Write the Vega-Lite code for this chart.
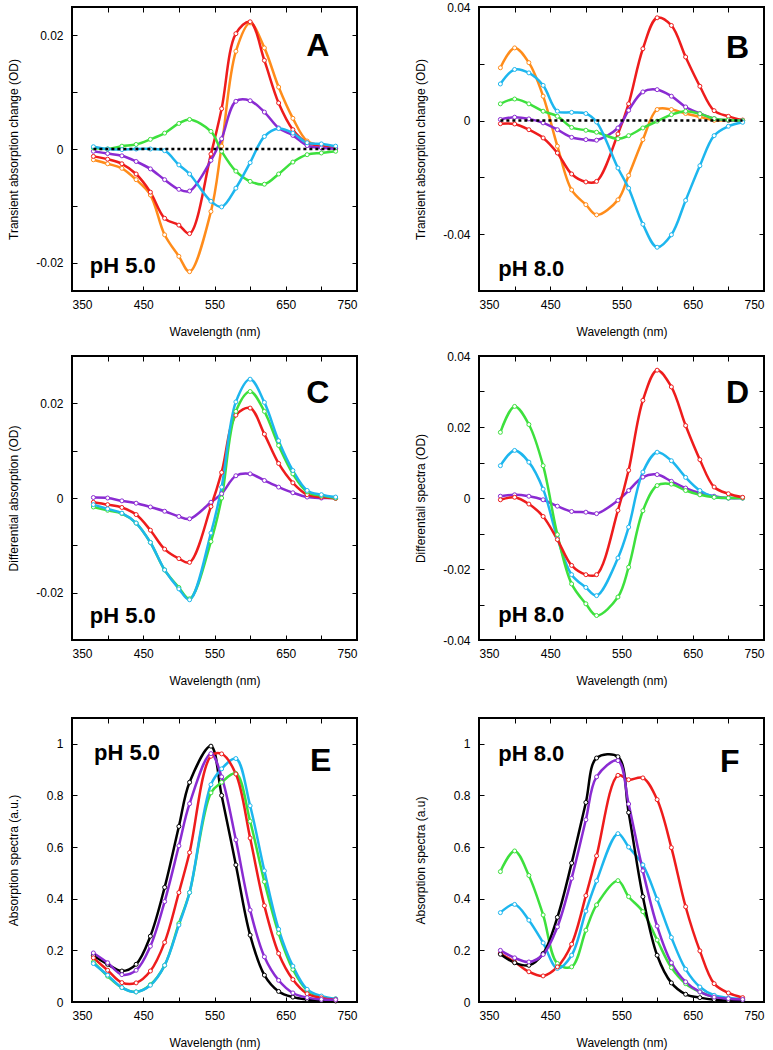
{
"$schema":"https://vega.github.io/schema/vega-lite/v6.json",
"padding":{"left":6,"top":0,"right":5,"bottom":3},
"spacing":29,
"datasets":{
"A":[
{"wl":380,"orange":-0.0019,"red":-0.0013,"purple":-0.0004,"green":0.0002,"cyan":0.0004},
{"wl":400,"orange":-0.0026,"red":-0.0018,"purple":-0.0008,"green":0.0000,"cyan":0.0000},
{"wl":420,"orange":-0.0034,"red":-0.0026,"purple":-0.0012,"green":0.0005,"cyan":-0.0001},
{"wl":440,"orange":-0.0054,"red":-0.0044,"purple":-0.0022,"green":0.0008,"cyan":0.0000},
{"wl":460,"orange":-0.0081,"red":-0.0076,"purple":-0.0035,"green":0.0017,"cyan":0.0000},
{"wl":480,"orange":-0.0151,"red":-0.0122,"purple":-0.0054,"green":0.0028,"cyan":-0.0003},
{"wl":500,"orange":-0.0189,"red":-0.0134,"purple":-0.0071,"green":0.0045,"cyan":-0.0028},
{"wl":515,"orange":-0.0216,"red":-0.0149,"purple":-0.0074,"green":0.0052,"cyan":-0.0044},
{"wl":545,"orange":-0.0110,"red":-0.0009,"purple":-0.0020,"green":0.0031,"cyan":-0.0092},
{"wl":560,"orange":0.0005,"red":0.0071,"purple":0.0018,"green":-0.0004,"cyan":-0.0102},
{"wl":580,"orange":0.0172,"red":0.0203,"purple":0.0084,"green":-0.0039,"cyan":-0.0069},
{"wl":600,"orange":0.0222,"red":0.0224,"purple":0.0085,"green":-0.0057,"cyan":-0.0024},
{"wl":620,"orange":0.0178,"red":0.0156,"purple":0.0065,"green":-0.0062,"cyan":0.0022},
{"wl":640,"orange":0.0109,"red":0.0081,"purple":0.0037,"green":-0.0044,"cyan":0.0036},
{"wl":660,"orange":0.0054,"red":0.0034,"purple":0.0024,"green":-0.0023,"cyan":0.0028},
{"wl":680,"orange":0.0014,"red":0.0011,"purple":0.0006,"green":-0.0010,"cyan":0.0011},
{"wl":700,"orange":0.0006,"red":0.0005,"purple":0.0002,"green":-0.0007,"cyan":0.0009},
{"wl":720,"orange":0.0002,"red":0.0001,"purple":0.0000,"green":-0.0004,"cyan":0.0005}
],
"B":[
{"wl":380,"orange":0.0186,"red":-0.0011,"purple":0.0004,"green":0.0059,"cyan":0.0129},
{"wl":400,"orange":0.0256,"red":-0.0012,"purple":0.0012,"green":0.0076,"cyan":0.0180},
{"wl":420,"orange":0.0204,"red":-0.0032,"purple":0.0006,"green":0.0059,"cyan":0.0168},
{"wl":440,"orange":0.0086,"red":-0.0061,"purple":-0.0008,"green":0.0033,"cyan":0.0124},
{"wl":460,"orange":-0.0090,"red":-0.0114,"purple":-0.0032,"green":0.0015,"cyan":0.0033},
{"wl":480,"orange":-0.0244,"red":-0.0188,"purple":-0.0059,"green":-0.0024,"cyan":0.0029},
{"wl":500,"orange":-0.0296,"red":-0.0216,"purple":-0.0067,"green":-0.0034,"cyan":0.0025},
{"wl":515,"orange":-0.0332,"red":-0.0214,"purple":-0.0069,"green":-0.0041,"cyan":-0.0005},
{"wl":545,"orange":-0.0279,"red":-0.0047,"purple":-0.0026,"green":-0.0064,"cyan":-0.0167},
{"wl":560,"orange":-0.0193,"red":0.0059,"purple":0.0036,"green":-0.0053,"cyan":-0.0238},
{"wl":580,"orange":-0.0067,"red":0.0253,"purple":0.0101,"green":-0.0026,"cyan":-0.0365},
{"wl":600,"orange":0.0039,"red":0.0362,"purple":0.0109,"green":-0.0002,"cyan":-0.0446},
{"wl":620,"orange":0.0039,"red":0.0335,"purple":0.0086,"green":0.0021,"cyan":-0.0402},
{"wl":640,"orange":0.0025,"red":0.0224,"purple":0.0048,"green":0.0033,"cyan":-0.0281},
{"wl":660,"orange":0.0013,"red":0.0121,"purple":0.0025,"green":0.0024,"cyan":-0.0159},
{"wl":680,"orange":0.0001,"red":0.0035,"purple":0.0007,"green":0.0007,"cyan":-0.0053},
{"wl":700,"orange":0.0001,"red":0.0015,"purple":0.0001,"green":0.0002,"cyan":-0.0020},
{"wl":720,"orange":0.0000,"red":0.0002,"purple":0.0000,"green":0.0000,"cyan":-0.0006}
],
"C":[
{"wl":380,"red":-0.0009,"green":-0.0019,"cyan":-0.0014,"purple":0.0001},
{"wl":400,"red":-0.0014,"green":-0.0026,"cyan":-0.0023,"purple":0.0000},
{"wl":420,"red":-0.0020,"green":-0.0033,"cyan":-0.0032,"purple":-0.0006},
{"wl":440,"red":-0.0035,"green":-0.0053,"cyan":-0.0053,"purple":-0.0011},
{"wl":460,"red":-0.0068,"green":-0.0094,"cyan":-0.0094,"purple":-0.0019},
{"wl":480,"red":-0.0108,"green":-0.0152,"cyan":-0.0152,"purple":-0.0028},
{"wl":500,"red":-0.0128,"green":-0.0189,"cyan":-0.0192,"purple":-0.0039},
{"wl":515,"red":-0.0136,"green":-0.0213,"cyan":-0.0215,"purple":-0.0044},
{"wl":545,"red":-0.0018,"green":-0.0092,"cyan":-0.0074,"purple":-0.0009},
{"wl":560,"red":0.0054,"green":0.0000,"cyan":0.0023,"purple":0.0009},
{"wl":580,"red":0.0175,"green":0.0183,"cyan":0.0203,"purple":0.0047},
{"wl":600,"red":0.0190,"green":0.0225,"cyan":0.0251,"purple":0.0051},
{"wl":620,"red":0.0135,"green":0.0183,"cyan":0.0202,"purple":0.0037},
{"wl":640,"red":0.0073,"green":0.0111,"cyan":0.0121,"purple":0.0023},
{"wl":660,"red":0.0032,"green":0.0051,"cyan":0.0058,"purple":0.0011},
{"wl":680,"red":0.0007,"green":0.0013,"cyan":0.0016,"purple":0.0002},
{"wl":700,"red":0.0002,"green":0.0005,"cyan":0.0007,"purple":0.0000},
{"wl":720,"red":-0.0001,"green":0.0000,"cyan":0.0002,"purple":0.0000}
],
"D":[
{"wl":380,"red":-0.0005,"green":0.0185,"cyan":0.0091,"purple":0.0005},
{"wl":400,"red":0.0002,"green":0.0258,"cyan":0.0134,"purple":0.0009},
{"wl":420,"red":-0.0017,"green":0.0207,"cyan":0.0101,"purple":0.0005},
{"wl":440,"red":-0.0052,"green":0.0091,"cyan":0.0025,"purple":-0.0005},
{"wl":460,"red":-0.0117,"green":-0.0103,"cyan":-0.0113,"purple":-0.0023},
{"wl":480,"red":-0.0190,"green":-0.0242,"cyan":-0.0216,"purple":-0.0038},
{"wl":500,"red":-0.0216,"green":-0.0298,"cyan":-0.0252,"purple":-0.0040},
{"wl":515,"red":-0.0216,"green":-0.0331,"cyan":-0.0275,"purple":-0.0044},
{"wl":545,"red":-0.0035,"green":-0.0279,"cyan":-0.0169,"purple":-0.0007},
{"wl":560,"red":0.0078,"green":-0.0195,"cyan":-0.0082,"purple":0.0021},
{"wl":580,"red":0.0275,"green":-0.0036,"cyan":0.0073,"purple":0.0059},
{"wl":600,"red":0.0360,"green":0.0035,"cyan":0.0129,"purple":0.0066},
{"wl":620,"red":0.0313,"green":0.0039,"cyan":0.0105,"purple":0.0047},
{"wl":640,"red":0.0204,"green":0.0021,"cyan":0.0058,"purple":0.0028},
{"wl":660,"red":0.0108,"green":0.0009,"cyan":0.0021,"purple":0.0014},
{"wl":680,"red":0.0031,"green":0.0002,"cyan":0.0003,"purple":0.0005},
{"wl":700,"red":0.0012,"green":0.0000,"cyan":0.0000,"purple":0.0000},
{"wl":720,"red":0.0002,"green":0.0000,"cyan":0.0000,"purple":0.0000}
],
"E":[
{"wl":380,"black":0.180,"purple":0.190,"red":0.171,"green":0.155,"cyan":0.149},
{"wl":400,"black":0.146,"purple":0.152,"red":0.123,"green":0.100,"cyan":0.104},
{"wl":420,"black":0.120,"purple":0.106,"red":0.075,"green":0.056,"cyan":0.056},
{"wl":440,"black":0.146,"purple":0.123,"red":0.074,"green":0.039,"cyan":0.039},
{"wl":460,"black":0.255,"purple":0.216,"red":0.120,"green":0.067,"cyan":0.065},
{"wl":480,"black":0.444,"purple":0.389,"red":0.231,"green":0.142,"cyan":0.142},
{"wl":500,"black":0.680,"purple":0.605,"red":0.424,"green":0.304,"cyan":0.298},
{"wl":515,"black":0.851,"purple":0.768,"red":0.579,"green":0.424,"cyan":0.424},
{"wl":545,"black":0.991,"purple":0.962,"red":0.952,"green":0.810,"cyan":0.842},
{"wl":560,"black":0.800,"purple":0.872,"red":0.961,"green":0.851,"cyan":0.903},
{"wl":580,"black":0.531,"purple":0.628,"red":0.883,"green":0.885,"cyan":0.943},
{"wl":600,"black":0.259,"purple":0.356,"red":0.635,"green":0.700,"cyan":0.760},
{"wl":620,"black":0.104,"purple":0.175,"red":0.373,"green":0.466,"cyan":0.508},
{"wl":640,"black":0.041,"purple":0.084,"red":0.188,"green":0.266,"cyan":0.282},
{"wl":660,"black":0.019,"purple":0.035,"red":0.087,"green":0.126,"cyan":0.139},
{"wl":680,"black":0.010,"purple":0.017,"red":0.032,"green":0.045,"cyan":0.049},
{"wl":700,"black":0.006,"purple":0.010,"red":0.016,"green":0.019,"cyan":0.023},
{"wl":720,"black":0.004,"purple":0.009,"red":0.009,"green":0.012,"cyan":0.012}
],
"F":[
{"wl":380,"black":0.185,"purple":0.200,"red":0.188,"green":0.505,"cyan":0.346},
{"wl":400,"black":0.152,"purple":0.171,"red":0.155,"green":0.585,"cyan":0.378},
{"wl":420,"black":0.142,"purple":0.155,"red":0.117,"green":0.490,"cyan":0.317},
{"wl":440,"black":0.188,"purple":0.184,"red":0.101,"green":0.337,"cyan":0.229},
{"wl":460,"black":0.328,"purple":0.291,"red":0.136,"green":0.149,"cyan":0.130},
{"wl":480,"black":0.538,"purple":0.479,"red":0.224,"green":0.136,"cyan":0.181},
{"wl":500,"black":0.773,"purple":0.706,"red":0.412,"green":0.278,"cyan":0.352},
{"wl":515,"black":0.945,"purple":0.872,"red":0.566,"green":0.376,"cyan":0.469},
{"wl":545,"black":0.950,"purple":0.935,"red":0.878,"green":0.470,"cyan":0.652},
{"wl":560,"black":0.734,"purple":0.767,"red":0.861,"green":0.408,"cyan":0.600},
{"wl":580,"black":0.408,"purple":0.508,"red":0.868,"green":0.350,"cyan":0.531},
{"wl":600,"black":0.181,"purple":0.294,"red":0.784,"green":0.240,"cyan":0.398},
{"wl":620,"black":0.074,"purple":0.152,"red":0.598,"green":0.133,"cyan":0.250},
{"wl":640,"black":0.030,"purple":0.078,"red":0.369,"green":0.071,"cyan":0.127},
{"wl":660,"black":0.017,"purple":0.039,"red":0.198,"green":0.039,"cyan":0.058},
{"wl":680,"black":0.009,"purple":0.019,"red":0.071,"green":0.019,"cyan":0.026},
{"wl":700,"black":0.006,"purple":0.013,"red":0.035,"green":0.013,"cyan":0.016},
{"wl":720,"black":0.006,"purple":0.010,"red":0.017,"green":0.010,"cyan":0.013}
],
"one":[{"k":1}]
},
"vconcat":[
{"spacing":11,"vconcat":[
{"bounds":"flush","spacing":122,"hconcat":[
{"width":285,"height":284,
"layer":[
{"data":{"name":"A"},"transform":[{"fold":["orange","red","purple","green","cyan"],"as":["s","v"]}],
"mark":{"type":"line","interpolate":"catmull-rom","strokeWidth":2.5},
"encoding":{
"x":{"field":"wl","type":"quantitative","scale":{"domain":[350,750],"nice":false,"zero":false},"axis":{"orient":"bottom","values":[350,400,450,500,550,600,650,700,750],"labelExpr":"datum.value % 100 == 50 ? format(datum.value, 'd') : ''","title":"Wavelength (nm)"}},
"y":{"field":"v","type":"quantitative","scale":{"domain":[-0.025,0.025],"nice":false,"zero":false},"axis":{"orient":"left","values":[-0.02,-0.01,0,0.01,0.02],"labelExpr":"abs(datum.value) < 0.001 ? '0' : abs(abs(datum.value) - 0.02) < 0.001 ? (datum.value < 0 ? '-0.02' : '0.02') : ''","title":"Transient absorption change (OD)"}},
"color":{"field":"s","type":"nominal","scale":{"domain":["red","orange","green","cyan","purple","black"],"range":["#ee1c1c","#ff8c1a","#3de03d","#1db6ee","#8a2bd2","#000000"]},"legend":null}}},
{"data":{"name":"A"},"transform":[{"fold":["orange","red","purple","green","cyan"],"as":["s","v"]}],
"mark":{"type":"point","filled":true,"fill":"white","size":16,"strokeWidth":1,"opacity":1},
"encoding":{
"x":{"field":"wl","type":"quantitative","scale":{"domain":[350,750],"nice":false,"zero":false},"axis":{"orient":"top","values":[350,400,450,500,550,600,650,700,750],"labels":false,"title":null,"minExtent":0,"maxExtent":0}},
"y":{"field":"v","type":"quantitative","scale":{"domain":[-0.025,0.025],"nice":false,"zero":false},"axis":{"orient":"right","values":[-0.02,-0.01,0,0.01,0.02],"labels":false,"title":null,"minExtent":0,"maxExtent":0}},
"stroke":{"field":"s","type":"nominal","scale":{"domain":["red","orange","green","cyan","purple","black"],"range":["#ee1c1c","#ff8c1a","#3de03d","#1db6ee","#8a2bd2","#000000"]},"legend":null}}},
{"data":{"name":"one"},"mark":{"type":"rule","strokeDash":[3,3],"strokeWidth":2.5,"color":"black"},
"encoding":{"x":{"datum":380,"axis":null},"x2":{"datum":720},"y":{"datum":0,"axis":null}}},
{"data":{"name":"one"},"mark":{"type":"text","font":"Liberation Sans","fontWeight":"bold","fontSize":22,"align":"left","baseline":"middle"},
"encoding":{"x":{"datum":375,"axis":null},"y":{"datum":-0.0206,"axis":null},"text":{"value":"pH 5.0"}}},
{"data":{"name":"one"},"mark":{"type":"text","font":"Liberation Sans","fontWeight":"bold","fontSize":32,"align":"center","baseline":"middle"},
"encoding":{"x":{"datum":695,"axis":null},"y":{"datum":0.0182,"axis":null},"text":{"value":"A"}}}
],
"resolve":{"axis":{"x":"independent","y":"independent"}}},
{"width":285,"height":284,
"layer":[
{"data":{"name":"B"},"transform":[{"fold":["orange","red","purple","green","cyan"],"as":["s","v"]}],
"mark":{"type":"line","interpolate":"catmull-rom","strokeWidth":2.5},
"encoding":{
"x":{"field":"wl","type":"quantitative","scale":{"domain":[350,750],"nice":false,"zero":false},"axis":{"orient":"bottom","values":[350,400,450,500,550,600,650,700,750],"labelExpr":"datum.value % 100 == 50 ? format(datum.value, 'd') : ''","title":"Wavelength (nm)"}},
"y":{"field":"v","type":"quantitative","scale":{"domain":[-0.06,0.04],"nice":false,"zero":false},"axis":{"orient":"left","values":[-0.06,-0.04,-0.02,0,0.02,0.04],"labelExpr":"abs(datum.value) < 0.001 ? '0' : abs(abs(datum.value) - 0.04) < 0.001 ? (datum.value < 0 ? '-0.04' : '0.04') : ''","title":"Transient absorption change (OD)"}},
"color":{"field":"s","type":"nominal","scale":{"domain":["red","orange","green","cyan","purple","black"],"range":["#ee1c1c","#ff8c1a","#3de03d","#1db6ee","#8a2bd2","#000000"]},"legend":null}}},
{"data":{"name":"B"},"transform":[{"fold":["orange","red","purple","green","cyan"],"as":["s","v"]}],
"mark":{"type":"point","filled":true,"fill":"white","size":16,"strokeWidth":1,"opacity":1},
"encoding":{
"x":{"field":"wl","type":"quantitative","scale":{"domain":[350,750],"nice":false,"zero":false},"axis":{"orient":"top","values":[350,400,450,500,550,600,650,700,750],"labels":false,"title":null,"minExtent":0,"maxExtent":0}},
"y":{"field":"v","type":"quantitative","scale":{"domain":[-0.06,0.04],"nice":false,"zero":false},"axis":{"orient":"right","values":[-0.06,-0.04,-0.02,0,0.02,0.04],"labels":false,"title":null,"minExtent":0,"maxExtent":0}},
"stroke":{"field":"s","type":"nominal","scale":{"domain":["red","orange","green","cyan","purple","black"],"range":["#ee1c1c","#ff8c1a","#3de03d","#1db6ee","#8a2bd2","#000000"]},"legend":null}}},
{"data":{"name":"one"},"mark":{"type":"rule","strokeDash":[3,3],"strokeWidth":2.5,"color":"black"},
"encoding":{"x":{"datum":380,"axis":null},"x2":{"datum":720},"y":{"datum":0,"axis":null}}},
{"data":{"name":"one"},"mark":{"type":"text","font":"Liberation Sans","fontWeight":"bold","fontSize":22,"align":"left","baseline":"middle"},
"encoding":{"x":{"datum":377,"axis":null},"y":{"datum":-0.0522,"axis":null},"text":{"value":"pH 8.0"}}},
{"data":{"name":"one"},"mark":{"type":"text","font":"Liberation Sans","fontWeight":"bold","fontSize":32,"align":"center","baseline":"middle"},
"encoding":{"x":{"datum":713,"axis":null},"y":{"datum":0.0254,"axis":null},"text":{"value":"B"}}}
],
"resolve":{"axis":{"x":"independent","y":"independent"}}}
]},
{"bounds":"flush","spacing":122,"hconcat":[
{"width":285,"height":284,
"layer":[
{"data":{"name":"C"},"transform":[{"fold":["purple","red","green","cyan"],"as":["s","v"]}],
"mark":{"type":"line","interpolate":"catmull-rom","strokeWidth":2.5},
"encoding":{
"x":{"field":"wl","type":"quantitative","scale":{"domain":[350,750],"nice":false,"zero":false},"axis":{"orient":"bottom","values":[350,400,450,500,550,600,650,700,750],"labelExpr":"datum.value % 100 == 50 ? format(datum.value, 'd') : ''","title":"Wavelength (nm)"}},
"y":{"field":"v","type":"quantitative","scale":{"domain":[-0.03,0.03],"nice":false,"zero":false},"axis":{"orient":"left","values":[-0.03,-0.02,-0.01,0,0.01,0.02,0.03],"labelExpr":"abs(datum.value) < 0.001 ? '0' : abs(abs(datum.value) - 0.02) < 0.001 ? (datum.value < 0 ? '-0.02' : '0.02') : ''","title":"Differential absorption (OD)"}},
"color":{"field":"s","type":"nominal","scale":{"domain":["red","orange","green","cyan","purple","black"],"range":["#ee1c1c","#ff8c1a","#3de03d","#1db6ee","#8a2bd2","#000000"]},"legend":null}}},
{"data":{"name":"C"},"transform":[{"fold":["purple","red","green","cyan"],"as":["s","v"]}],
"mark":{"type":"point","filled":true,"fill":"white","size":16,"strokeWidth":1,"opacity":1},
"encoding":{
"x":{"field":"wl","type":"quantitative","scale":{"domain":[350,750],"nice":false,"zero":false},"axis":{"orient":"top","values":[350,400,450,500,550,600,650,700,750],"labels":false,"title":null,"minExtent":0,"maxExtent":0}},
"y":{"field":"v","type":"quantitative","scale":{"domain":[-0.03,0.03],"nice":false,"zero":false},"axis":{"orient":"right","values":[-0.03,-0.02,-0.01,0,0.01,0.02,0.03],"labels":false,"title":null,"minExtent":0,"maxExtent":0}},
"stroke":{"field":"s","type":"nominal","scale":{"domain":["red","orange","green","cyan","purple","black"],"range":["#ee1c1c","#ff8c1a","#3de03d","#1db6ee","#8a2bd2","#000000"]},"legend":null}}},
{"data":{"name":"one"},"mark":{"type":"text","font":"Liberation Sans","fontWeight":"bold","fontSize":22,"align":"left","baseline":"middle"},
"encoding":{"x":{"datum":375,"axis":null},"y":{"datum":-0.0249,"axis":null},"text":{"value":"pH 5.0"}}},
{"data":{"name":"one"},"mark":{"type":"text","font":"Liberation Sans","fontWeight":"bold","fontSize":32,"align":"center","baseline":"middle"},
"encoding":{"x":{"datum":695,"axis":null},"y":{"datum":0.0222,"axis":null},"text":{"value":"C"}}}
],
"resolve":{"axis":{"x":"independent","y":"independent"}}},
{"width":285,"height":284,
"layer":[
{"data":{"name":"D"},"transform":[{"fold":["purple","cyan","green","red"],"as":["s","v"]}],
"mark":{"type":"line","interpolate":"catmull-rom","strokeWidth":2.5},
"encoding":{
"x":{"field":"wl","type":"quantitative","scale":{"domain":[350,750],"nice":false,"zero":false},"axis":{"orient":"bottom","values":[350,400,450,500,550,600,650,700,750],"labelExpr":"datum.value % 100 == 50 ? format(datum.value, 'd') : ''","title":"Wavelength (nm)"}},
"y":{"field":"v","type":"quantitative","scale":{"domain":[-0.04,0.04],"nice":false,"zero":false},"axis":{"orient":"left","values":[-0.04,-0.03,-0.02,-0.01,0,0.01,0.02,0.03,0.04],"labelExpr":"abs(datum.value) < 0.001 ? '0' : round(abs(datum.value) * 100) % 2 == 0 ? (datum.value < 0 ? '-' : '') + format(abs(datum.value), '.2f') : ''","title":"Differentail spectra (OD)"}},
"color":{"field":"s","type":"nominal","scale":{"domain":["red","orange","green","cyan","purple","black"],"range":["#ee1c1c","#ff8c1a","#3de03d","#1db6ee","#8a2bd2","#000000"]},"legend":null}}},
{"data":{"name":"D"},"transform":[{"fold":["purple","cyan","green","red"],"as":["s","v"]}],
"mark":{"type":"point","filled":true,"fill":"white","size":16,"strokeWidth":1,"opacity":1},
"encoding":{
"x":{"field":"wl","type":"quantitative","scale":{"domain":[350,750],"nice":false,"zero":false},"axis":{"orient":"top","values":[350,400,450,500,550,600,650,700,750],"labels":false,"title":null,"minExtent":0,"maxExtent":0}},
"y":{"field":"v","type":"quantitative","scale":{"domain":[-0.04,0.04],"nice":false,"zero":false},"axis":{"orient":"right","values":[-0.04,-0.03,-0.02,-0.01,0,0.01,0.02,0.03,0.04],"labels":false,"title":null,"minExtent":0,"maxExtent":0}},
"stroke":{"field":"s","type":"nominal","scale":{"domain":["red","orange","green","cyan","purple","black"],"range":["#ee1c1c","#ff8c1a","#3de03d","#1db6ee","#8a2bd2","#000000"]},"legend":null}}},
{"data":{"name":"one"},"mark":{"type":"text","font":"Liberation Sans","fontWeight":"bold","fontSize":22,"align":"left","baseline":"middle"},
"encoding":{"x":{"datum":377,"axis":null},"y":{"datum":-0.033,"axis":null},"text":{"value":"pH 8.0"}}},
{"data":{"name":"one"},"mark":{"type":"text","font":"Liberation Sans","fontWeight":"bold","fontSize":32,"align":"center","baseline":"middle"},
"encoding":{"x":{"datum":713,"axis":null},"y":{"datum":0.0296,"axis":null},"text":{"value":"D"}}}
],
"resolve":{"axis":{"x":"independent","y":"independent"}}}
]}
]},
{"bounds":"flush","spacing":122,"hconcat":[
{"width":285,"height":284,
"layer":[
{"data":{"name":"E"},"transform":[{"fold":["black","green","cyan","red","purple"],"as":["s","v"]}],
"mark":{"type":"line","interpolate":"catmull-rom","strokeWidth":2.5},
"encoding":{
"x":{"field":"wl","type":"quantitative","scale":{"domain":[350,750],"nice":false,"zero":false},"axis":{"orient":"bottom","values":[350,400,450,500,550,600,650,700,750],"labelExpr":"datum.value % 100 == 50 ? format(datum.value, 'd') : ''","title":"Wavelength (nm)"}},
"y":{"field":"v","type":"quantitative","scale":{"domain":[0,1.1],"nice":false,"zero":false},"axis":{"orient":"left","values":[0,0.2,0.4,0.6,0.8,1],"labelExpr":"format(datum.value, '~g')","title":"Absorption spectra (a.u.)"}},
"color":{"field":"s","type":"nominal","scale":{"domain":["red","orange","green","cyan","purple","black"],"range":["#ee1c1c","#ff8c1a","#3de03d","#1db6ee","#8a2bd2","#000000"]},"legend":null}}},
{"data":{"name":"E"},"transform":[{"fold":["black","green","cyan","red","purple"],"as":["s","v"]}],
"mark":{"type":"point","filled":true,"fill":"white","size":16,"strokeWidth":1,"opacity":1},
"encoding":{
"x":{"field":"wl","type":"quantitative","scale":{"domain":[350,750],"nice":false,"zero":false},"axis":{"orient":"top","values":[350,400,450,500,550,600,650,700,750],"labels":false,"title":null,"minExtent":0,"maxExtent":0}},
"y":{"field":"v","type":"quantitative","scale":{"domain":[0,1.1],"nice":false,"zero":false},"axis":{"orient":"right","values":[0,0.2,0.4,0.6,0.8,1],"labels":false,"title":null,"minExtent":0,"maxExtent":0}},
"stroke":{"field":"s","type":"nominal","scale":{"domain":["red","orange","green","cyan","purple","black"],"range":["#ee1c1c","#ff8c1a","#3de03d","#1db6ee","#8a2bd2","#000000"]},"legend":null}}},
{"data":{"name":"one"},"mark":{"type":"text","font":"Liberation Sans","fontWeight":"bold","fontSize":22,"align":"left","baseline":"middle"},
"encoding":{"x":{"datum":381,"axis":null},"y":{"datum":0.965,"axis":null},"text":{"value":"pH 5.0"}}},
{"data":{"name":"one"},"mark":{"type":"text","font":"Liberation Sans","fontWeight":"bold","fontSize":32,"align":"center","baseline":"middle"},
"encoding":{"x":{"datum":699,"axis":null},"y":{"datum":0.934,"axis":null},"text":{"value":"E"}}}
],
"resolve":{"axis":{"x":"independent","y":"independent"}}},
{"width":285,"height":284,
"layer":[
{"data":{"name":"F"},"transform":[{"fold":["green","cyan","red","black","purple"],"as":["s","v"]}],
"mark":{"type":"line","interpolate":"catmull-rom","strokeWidth":2.5},
"encoding":{
"x":{"field":"wl","type":"quantitative","scale":{"domain":[350,750],"nice":false,"zero":false},"axis":{"orient":"bottom","values":[350,400,450,500,550,600,650,700,750],"labelExpr":"datum.value % 100 == 50 ? format(datum.value, 'd') : ''","title":"Wavelength (nm)"}},
"y":{"field":"v","type":"quantitative","scale":{"domain":[0,1.1],"nice":false,"zero":false},"axis":{"orient":"left","values":[0,0.2,0.4,0.6,0.8,1],"labelExpr":"format(datum.value, '~g')","title":"Absorption spectra (a.u)"}},
"color":{"field":"s","type":"nominal","scale":{"domain":["red","orange","green","cyan","purple","black"],"range":["#ee1c1c","#ff8c1a","#3de03d","#1db6ee","#8a2bd2","#000000"]},"legend":null}}},
{"data":{"name":"F"},"transform":[{"fold":["green","cyan","red","black","purple"],"as":["s","v"]}],
"mark":{"type":"point","filled":true,"fill":"white","size":16,"strokeWidth":1,"opacity":1},
"encoding":{
"x":{"field":"wl","type":"quantitative","scale":{"domain":[350,750],"nice":false,"zero":false},"axis":{"orient":"top","values":[350,400,450,500,550,600,650,700,750],"labels":false,"title":null,"minExtent":0,"maxExtent":0}},
"y":{"field":"v","type":"quantitative","scale":{"domain":[0,1.1],"nice":false,"zero":false},"axis":{"orient":"right","values":[0,0.2,0.4,0.6,0.8,1],"labels":false,"title":null,"minExtent":0,"maxExtent":0}},
"stroke":{"field":"s","type":"nominal","scale":{"domain":["red","orange","green","cyan","purple","black"],"range":["#ee1c1c","#ff8c1a","#3de03d","#1db6ee","#8a2bd2","#000000"]},"legend":null}}},
{"data":{"name":"one"},"mark":{"type":"text","font":"Liberation Sans","fontWeight":"bold","fontSize":22,"align":"left","baseline":"middle"},
"encoding":{"x":{"datum":377,"axis":null},"y":{"datum":0.961,"axis":null},"text":{"value":"pH 8.0"}}},
{"data":{"name":"one"},"mark":{"type":"text","font":"Liberation Sans","fontWeight":"bold","fontSize":32,"align":"center","baseline":"middle"},
"encoding":{"x":{"datum":702,"axis":null},"y":{"datum":0.93,"axis":null},"text":{"value":"F"}}}
],
"resolve":{"axis":{"x":"independent","y":"independent"}}}
]}
],
"config":{
"background":"white",
"view":{"stroke":"black","strokeWidth":2},
"axis":{"domain":false,"grid":false,"ticks":true,"tickColor":"black","tickSize":-5,"tickWidth":1,"labelFont":"Liberation Sans","labelFontSize":12,"labelColor":"black","titleFont":"Liberation Sans","titleFontSize":12,"titleFontWeight":"normal","titleColor":"black"},
"axisLeft":{"labelPadding":14,"titlePadding":12,"minExtent":40,"maxExtent":40},
"axisBottom":{"labelPadding":13,"titlePadding":13,"minExtent":22,"maxExtent":22}
}
}
